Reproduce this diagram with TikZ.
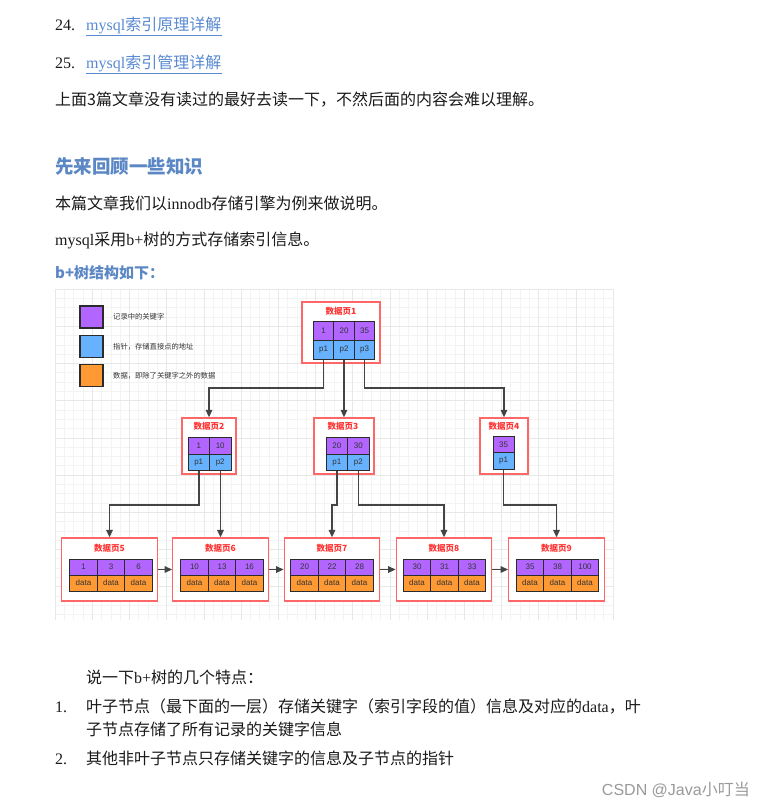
\documentclass[tikz,border=0pt]{standalone}
\usepackage{fontspec}
\setmainfont{Liberation Serif}
\newfontfamily\zh{Noto Sans CJK SC}
\newfontfamily\lsans{Liberation Sans}
\usetikzlibrary{arrows.meta}
\definecolor{linkblue}{HTML}{5A8AD2}
\definecolor{headblue}{HTML}{5B87C5}
\definecolor{bodytext}{HTML}{1A1A1A}
\definecolor{gridminor}{HTML}{F3F3F3}
\definecolor{gridmajor}{HTML}{E8E8E8}
\definecolor{pagered}{HTML}{FF6666}
\definecolor{titlered}{HTML}{FF3333}
\definecolor{keyc}{HTML}{B266FF}
\definecolor{ptrc}{HTML}{66B2FF}
\definecolor{datc}{HTML}{FF9933}
\definecolor{cellline}{HTML}{2B2B2B}
\definecolor{celltext}{HTML}{333333}
\definecolor{connc}{HTML}{444444}
\definecolor{wmgray}{HTML}{9A9A9A}
\newcommand\Zh[1]{{\zh #1}}
\begin{document}
\begin{tikzpicture}[x=1pt, y={(0pt,-1pt)},
  body/.style={anchor=base west, inner sep=0pt, text=bodytext, font=\fontsize{16}{19}\selectfont},
  link/.style={anchor=base west, inner sep=0pt, text=linkblue, font=\fontsize{16}{19}\selectfont},
  head/.style={anchor=base west, inner sep=0pt, text=headblue, font=\zh\bfseries\fontsize{18.5}{22}\selectfont},
  subhead/.style={anchor=base west, inner sep=0pt, text=headblue, font=\zh\bfseries\fontsize{15}{18}\selectfont},
  lgbox/.style={draw=cellline, line width=1.2pt, inner sep=0pt, minimum width=23pt, minimum height=22pt},
  lgtext/.style={anchor=west, inner sep=0pt, text=celltext, font=\zh\fontsize{7.3}{8}\selectfont},
  page/.style={draw=pagered, line width=1.3pt, fill=white, inner sep=0pt},
  ptitle/.style={inner sep=0pt, text=titlered, font=\zh\bfseries\fontsize{8.5}{9}\selectfont},
  cell/.style={draw=cellline, line width=1pt, inner sep=0pt, text=celltext, font=\lsans\fontsize{8}{9}\selectfont},
  key/.style={cell, fill=keyc},
  ptr/.style={cell, fill=ptrc},
  dat/.style={cell, fill=datc},
  conn/.style={draw=connc, line width=1.5pt, -{Triangle[length=7.5pt,width=6.5pt]}}
]
\useasboundingbox[fill=white] (0,0) rectangle (765,807);

% ---------- text above ----------
\node[body] (n24) at (55,30) {24.};
\node[link] (l24) at (86,30) {mysql\Zh{索引原理详解}};
\draw[linkblue, line width=0.8pt] ([yshift=-5pt]l24.base west) -- ([yshift=-5pt]l24.base east);
\node[body] (n25) at (55,68) {25.};
\node[link] (l25) at (86,68) {mysql\Zh{索引管理详解}};
\draw[linkblue, line width=0.8pt] ([yshift=-5pt]l25.base west) -- ([yshift=-5pt]l25.base east);
\node[body] (t3) at (55,105) {\Zh{上面3篇文章没有读过的最好去读一下，不然后面的内容会难以理解。}};
\node[head] (h1) at (55,173) {先来回顾一些知识};
\node[body] (t4) at (55,209) {\Zh{本篇文章我们以}innodb\Zh{存储引擎为例来做说明。}};
\node[body] (t5) at (55,245) {mysql\Zh{采用}b+\Zh{树的方式存储索引信息。}};
\node[subhead] (h2) at (55,278) {b+树结构如下：};

% ---------- grid ----------
\foreach \i in {0,...,60} \draw[gridminor, line width=0.6pt] ({55+9.3*\i},289) -- ({55+9.3*\i},620);
\foreach \j in {0,...,35} \draw[gridminor, line width=0.6pt] (55,{289+9.3*\j}) -- (613,{289+9.3*\j});
\foreach \i in {0,4,...,60} \draw[gridmajor, line width=0.6pt] ({55+9.3*\i},289) -- ({55+9.3*\i},620);
\foreach \j in {0,4,...,32} \draw[gridmajor, line width=0.6pt] (55,{289+9.3*\j}) -- (613,{289+9.3*\j});

% ---------- legend ----------
\node[lgbox, fill=keyc] (lg1) at (91.5,317) {};
\node[lgtext] (lt1) at (113,316.5) {记录中的关键字};
\node[lgbox, fill=ptrc] (lg2) at (91.5,346.5) {};
\node[lgtext] (lt2) at (113,346.5) {指针，存储直接点的地址};
\node[lgbox, fill=datc] (lg3) at (91.5,375.5) {};
\node[lgtext] (lt3) at (113,375.5) {数据，即除了关键字之外的数据};

% ---------- page 1 ----------
\node[page, minimum width=78pt, minimum height=61pt] (pg1) at (341,332.5) {};
\node[ptitle] (pt1) at (341,311) {数据页1};
\foreach \n/\x/\k/\p in {1/323.5/1/p1, 2/344/20/p2, 3/364.5/35/p3} {
  \node[key, minimum width=20.5pt, minimum height=19pt] (k1\n) at (\x,330.5) {\k};
  \node[ptr, minimum width=20.5pt, minimum height=19pt] (p1\n) at (\x,349.5) {\p};
}

% ---------- level 2 ----------
\node[page, minimum width=54pt, minimum height=56pt] (pg2) at (209,446) {};
\node[ptitle] (pt2) at (209,426) {数据页2};
\foreach \n/\x/\k/\p in {1/198.75/1/p1, 2/220.25/10/p2} {
  \node[key, minimum width=21.5pt, minimum height=16.5pt] (k2\n) at (\x,445.75) {\k};
  \node[ptr, minimum width=21.5pt, minimum height=16.5pt] (p2\n) at (\x,462.25) {\p};
}
\node[page, minimum width=60pt, minimum height=56pt] (pg3) at (344,446) {};
\node[ptitle] (pt3) at (343,426) {数据页3};
\foreach \n/\x/\k/\p in {1/336.75/20/p1, 2/358.25/30/p2} {
  \node[key, minimum width=21.5pt, minimum height=16.5pt] (k3\n) at (\x,445.75) {\k};
  \node[ptr, minimum width=21.5pt, minimum height=16.5pt] (p3\n) at (\x,462.25) {\p};
}
\node[page, minimum width=48pt, minimum height=56pt] (pg4) at (504,446) {};
\node[ptitle] (pt4) at (504,426) {数据页4};
\node[key, minimum width=21pt, minimum height=16.5pt] (k41) at (503.5,444.5) {35};
\node[ptr, minimum width=21pt, minimum height=16.5pt] (p41) at (503.5,461) {p1};

% ---------- leaves ----------
\foreach \pg/\bx/\cx/\a/\b/\c in {5/109.5/111/1/3/6, 6/220.5/222/10/13/16, 7/332/332/20/22/28, 8/444/444.5/30/31/33, 9/556.5/557.5/35/38/100} {
  \node[page, minimum width=95.5pt, minimum height=63pt] (pg\pg) at (\bx,569.5) {};
  \node[ptitle] (pt\pg) at (\bx,548) {数据页\pg};
  \node[key, minimum width=27.5pt, minimum height=16pt] (k\pg1) at ({\cx-27.5},567) {\a};
  \node[key, minimum width=27.5pt, minimum height=16pt] (k\pg2) at (\cx,567) {\b};
  \node[key, minimum width=27.5pt, minimum height=16pt] (k\pg3) at ({\cx+27.5},567) {\c};
  \node[dat, minimum width=27.5pt, minimum height=16pt] (d\pg1) at ({\cx-27.5},583) {data};
  \node[dat, minimum width=27.5pt, minimum height=16pt] (d\pg2) at (\cx,583) {data};
  \node[dat, minimum width=27.5pt, minimum height=16pt] (d\pg3) at ({\cx+27.5},583) {data};
}

% ---------- connectors ----------
\coordinate (r1) at (0,388);
\coordinate (r2) at (0,505);
\draw[conn] (p11.south) -- (p11.south |- r1) -| (pg2.north);
\draw[conn] (p12.south) -- (pg3.north);
\draw[conn] (p13.south) -- (p13.south |- r1) -| (pg4.north);
\draw[conn] (p21.south) -- (p21.south |- r2) -| (pg5.north);
\draw[conn] (p22.south) -- (p22.south |- r2) -| (pg6.north);
\draw[conn] (p31.south) -- (p31.south |- r2) -| (pg7.north);
\draw[conn] (p32.south) -- (p32.south |- r2) -| (pg8.north);
\draw[conn] (p41.south) -- (p41.south |- r2) -| (pg9.north);
\draw[conn] (pg5.east) -- (pg6.west);
\draw[conn] (pg6.east) -- (pg7.west);
\draw[conn] (pg7.east) -- (pg8.west);
\draw[conn] (pg8.east) -- (pg9.west);

% ---------- text below ----------
\node[body] (t6) at (86,683) {\Zh{说一下}b+\Zh{树的几个特点：}};
\node[body] (n1) at (55,712) {1.};
\node[body] (t7) at (86,712) {\Zh{叶子节点（最下面的一层）存储关键字（索引字段的值）信息及对应的}data\Zh{，叶}};
\node[body] (t8) at (86,735) {\Zh{子节点存储了所有记录的关键字信息}};
\node[body] (n2) at (55,764) {2.};
\node[body] (t9) at (86,764) {\Zh{其他非叶子节点只存储关键字的信息及子节点的指针}};
\node[anchor=base east, inner sep=0pt, text=wmgray, font=\lsans\fontsize{16}{19}\selectfont] (wm) at (750,795) {CSDN @Java\Zh{小叮当}};
\end{tikzpicture}
\end{document}
